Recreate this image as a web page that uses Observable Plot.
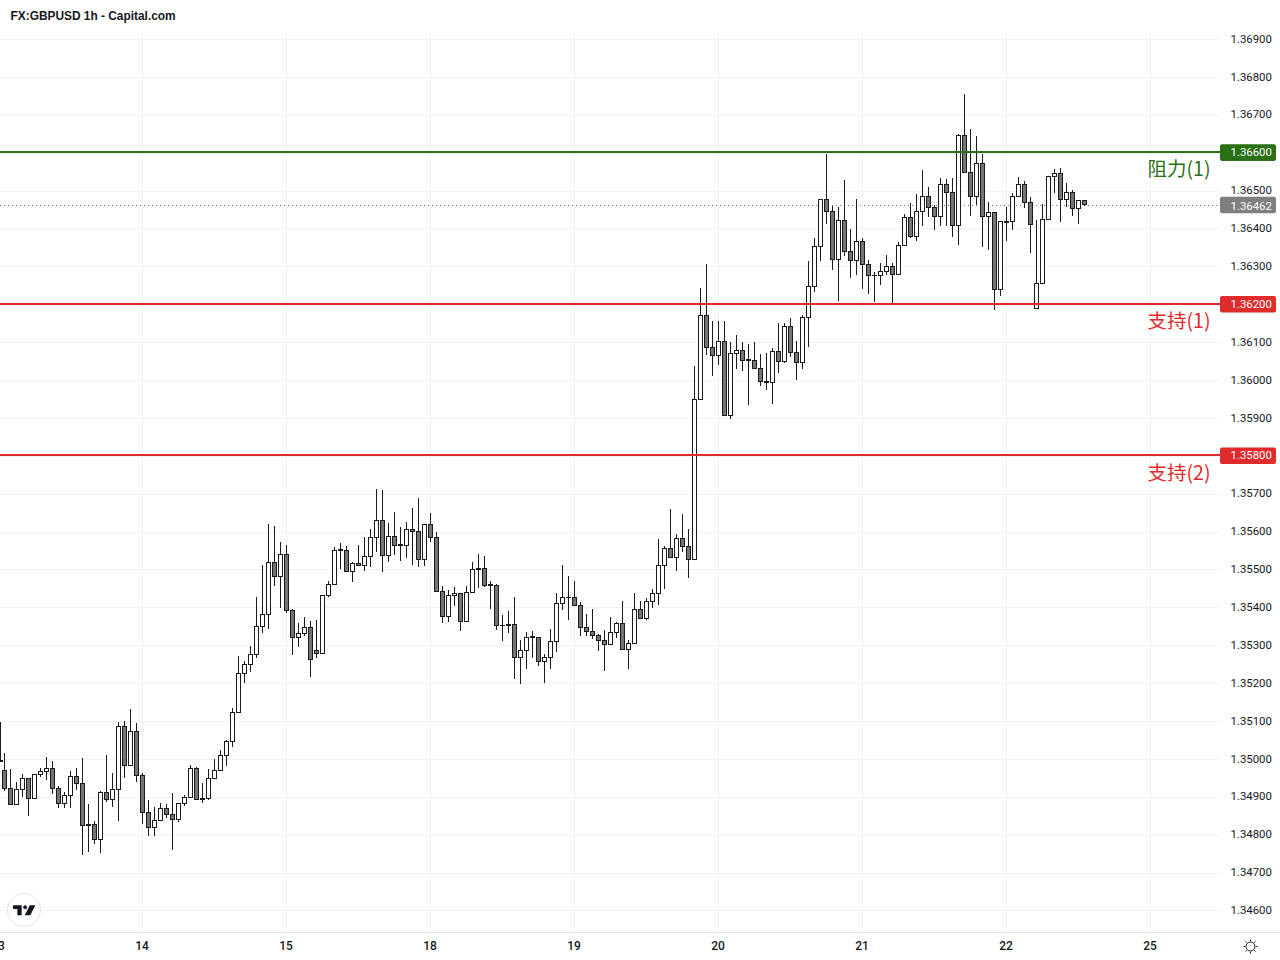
<!DOCTYPE html>
<html>
<head>
<meta charset="utf-8">
<script src="https://cdn.jsdelivr.net/npm/d3@7"></script>
<script src="https://cdn.jsdelivr.net/npm/@observablehq/plot@0.6"></script>
<style>
html,body{margin:0;padding:0;background:#fff}
#wrap{position:relative;width:1280px;height:960px;overflow:hidden}
#wrap>svg{position:absolute;left:0;top:0}
</style>
</head>
<body>
<div id="wrap"></div>
<script>
const title = "FX:GBPUSD 1h - Capital.com";

// hours of each bar, counted from the start of the 14th
const barHours = [-23.7, ...d3.range(-23, 158)];

const opens = [
1.34995,1.34970,1.34922,1.34880,1.34920,1.34949,1.34896,1.34959,1.34967,1.34975,
1.34922,1.34883,1.34904,1.34954,1.34935,1.34827,1.34827,1.34788,1.34912,1.34893,
1.34920,1.35086,1.34983,1.35073,1.34957,1.34859,1.34819,1.34838,1.34869,1.34854,
1.34840,1.34883,1.34898,1.34975,1.34896,1.34896,1.34949,1.34970,1.35010,1.35047,
1.35123,1.35226,1.35250,1.35276,1.35350,1.35382,1.35519,1.35482,1.35540,1.35392,
1.35321,1.35332,1.35347,1.35287,1.35279,1.35432,1.35461,1.35552,1.35551,1.35495,
1.35516,1.35511,1.35535,1.35585,1.35630,1.35537,1.35587,1.35565,1.35564,1.35606,
1.35601,1.35527,1.35619,1.35585,1.35442,1.35376,1.35432,1.35437,1.35363,1.35440,
1.35503,1.35503,1.35459,1.35458,1.35353,1.35355,1.35355,1.35268,1.35286,1.35322,
1.35321,1.35257,1.35268,1.35310,1.35410,1.35427,1.35426,1.35406,1.35347,1.35337,
1.35326,1.35313,1.35303,1.35334,1.35358,1.35289,1.35305,1.35395,1.35371,1.35416,
1.35437,1.35511,1.35556,1.35532,1.35582,1.35561,1.35527,1.35949,1.36171,1.36086,
1.36065,1.36102,1.35907,1.36070,1.36078,1.36053,1.36052,1.36031,1.35996,1.35994,
1.36076,1.36049,1.36142,1.36073,1.36046,1.36165,1.36247,1.36353,1.36477,1.36445,
1.36319,1.36422,1.36340,1.36316,1.36366,1.36306,1.36277,1.36276,1.36287,1.36300,
1.36279,1.36356,1.36430,1.36379,1.36445,1.36485,1.36456,1.36432,1.36516,1.36494,
1.36407,1.36645,1.36547,1.36484,1.36571,1.36431,1.36442,1.36238,1.36419,1.36418,
1.36484,1.36516,1.36468,1.36188,1.36254,1.36423,1.36537,1.36545,1.36476,1.36494,
1.36452,1.36473];

const highs = [
1.35096,1.35015,1.34973,1.34938,1.34959,1.34949,1.34959,1.34975,1.35004,1.34994,
1.34928,1.34912,1.34968,1.34975,1.35001,1.34880,1.34836,1.34914,1.35009,1.34962,
1.35096,1.35099,1.35131,1.35094,1.34962,1.34891,1.34872,1.34883,1.34880,1.34909,
1.34883,1.34904,1.34983,1.34978,1.34935,1.34972,1.35000,1.35023,1.35050,1.35134,
1.35272,1.35258,1.35298,1.35427,1.35511,1.35619,1.35614,1.35572,1.35564,1.35395,
1.35358,1.35374,1.35363,1.35366,1.35432,1.35469,1.35559,1.35569,1.35561,1.35519,
1.35564,1.35585,1.35606,1.35711,1.35709,1.35622,1.35651,1.35611,1.35624,1.35661,
1.35688,1.35619,1.35648,1.35598,1.35455,1.35445,1.35453,1.35437,1.35455,1.35519,
1.35540,1.35535,1.35469,1.35461,1.35379,1.35389,1.35426,1.35313,1.35334,1.35337,
1.35321,1.35276,1.35342,1.35437,1.35511,1.35482,1.35469,1.35413,1.35382,1.35395,
1.35329,1.35340,1.35374,1.35361,1.35416,1.35313,1.35437,1.35416,1.35424,1.35448,
1.35580,1.35561,1.35659,1.35593,1.35646,1.35606,1.36036,1.36242,1.36305,1.36155,
1.36157,1.36157,1.36099,1.36120,1.36099,1.36094,1.36099,1.36068,1.36070,1.36084,
1.36150,1.36150,1.36163,1.36102,1.36171,1.36313,1.36374,1.36477,1.36596,1.36459,
1.36456,1.36527,1.36398,1.36477,1.36374,1.36316,1.36286,1.36308,1.36329,1.36308,
1.36364,1.36438,1.36467,1.36490,1.36554,1.36509,1.36461,1.36533,1.36531,1.36534,
1.36650,1.36756,1.36663,1.36645,1.36597,1.36471,1.36442,1.36420,1.36457,1.36494,
1.36537,1.36526,1.36484,1.36423,1.36465,1.36539,1.36558,1.36560,1.36521,1.36502,
1.36473,1.36476];

const lows = [
1.34993,1.34916,1.34880,1.34877,1.34900,1.34850,1.34896,1.34951,1.34944,1.34908,
1.34869,1.34869,1.34869,1.34919,1.34745,1.34755,1.34776,1.34752,1.34887,1.34874,
1.34837,1.34950,1.34983,1.34940,1.34829,1.34796,1.34797,1.34838,1.34845,1.34760,
1.34834,1.34876,1.34898,1.34893,1.34884,1.34891,1.34946,1.34970,1.34982,1.35031,
1.35123,1.35200,1.35230,1.35267,1.35331,1.35344,1.35457,1.35397,1.35384,1.35273,
1.35296,1.35323,1.35217,1.35265,1.35279,1.35428,1.35461,1.35501,1.35492,1.35468,
1.35508,1.35497,1.35507,1.35545,1.35492,1.35519,1.35537,1.35521,1.35529,1.35513,
1.35506,1.35508,1.35572,1.35442,1.35358,1.35360,1.35403,1.35337,1.35363,1.35437,
1.35450,1.35453,1.35395,1.35339,1.35310,1.35331,1.35212,1.35197,1.35236,1.35265,
1.35244,1.35199,1.35236,1.35281,1.35392,1.35366,1.35405,1.35323,1.35323,1.35316,
1.35286,1.35233,1.35303,1.35318,1.35289,1.35236,1.35302,1.35371,1.35366,1.35398,
1.35405,1.35448,1.35530,1.35497,1.35545,1.35477,1.35527,1.35949,1.36066,1.36010,
1.36040,1.35907,1.35898,1.36030,1.36025,1.35935,1.36031,1.35985,1.35974,1.35937,
1.36019,1.36046,1.36062,1.36001,1.36030,1.36088,1.36233,1.36315,1.36411,1.36291,
1.36208,1.36328,1.36268,1.36278,1.36240,1.36228,1.36207,1.36252,1.36278,1.36202,
1.36279,1.36356,1.36375,1.36368,1.36407,1.36430,1.36397,1.36407,1.36406,1.36377,
1.36356,1.36547,1.36433,1.36463,1.36351,1.36343,1.36185,1.36222,1.36367,1.36396,
1.36484,1.36455,1.36335,1.36188,1.36254,1.36423,1.36494,1.36417,1.36457,1.36433,
1.36412,1.36460];

const closes = [
1.34993,1.34922,1.34880,1.34920,1.34949,1.34896,1.34959,1.34967,1.34975,1.34922,
1.34883,1.34904,1.34954,1.34935,1.34825,1.34825,1.34788,1.34912,1.34893,1.34920,
1.35086,1.34983,1.35073,1.34957,1.34859,1.34819,1.34838,1.34869,1.34854,1.34840,
1.34883,1.34898,1.34975,1.34893,1.34893,1.34949,1.34970,1.35010,1.35047,1.35123,
1.35226,1.35250,1.35276,1.35350,1.35382,1.35519,1.35482,1.35540,1.35392,1.35321,
1.35332,1.35347,1.35263,1.35279,1.35432,1.35461,1.35551,1.35550,1.35495,1.35516,
1.35511,1.35535,1.35585,1.35630,1.35537,1.35587,1.35564,1.35563,1.35606,1.35601,
1.35527,1.35619,1.35585,1.35442,1.35376,1.35432,1.35437,1.35363,1.35440,1.35500,
1.35500,1.35458,1.35457,1.35352,1.35351,1.35352,1.35268,1.35286,1.35321,1.35320,
1.35257,1.35268,1.35310,1.35410,1.35426,1.35425,1.35405,1.35347,1.35337,1.35326,
1.35313,1.35303,1.35334,1.35358,1.35289,1.35305,1.35395,1.35371,1.35416,1.35437,
1.35511,1.35556,1.35532,1.35582,1.35561,1.35527,1.35949,1.36171,1.36086,1.36065,
1.36102,1.35907,1.36070,1.36078,1.36052,1.36051,1.36031,1.35996,1.35994,1.36076,
1.36049,1.36142,1.36073,1.36046,1.36165,1.36247,1.36353,1.36477,1.36445,1.36319,
1.36422,1.36340,1.36316,1.36366,1.36306,1.36276,1.36275,1.36287,1.36300,1.36279,
1.36356,1.36430,1.36379,1.36445,1.36485,1.36456,1.36432,1.36517,1.36494,1.36407,
1.36645,1.36547,1.36484,1.36571,1.36431,1.36442,1.36238,1.36418,1.36417,1.36484,
1.36516,1.36468,1.36410,1.36254,1.36423,1.36537,1.36545,1.36476,1.36494,1.36452,
1.36473,1.36462];

const dayHours  = [-24, 0, 24, 48, 72, 96, 120, 144, 168];
const dayLabels = ["13", "14", "15", "18", "19", "20", "21", "22", "25"];
const priceTicks = [1.346,1.347,1.348,1.349,1.350,1.351,1.352,1.353,1.354,1.355,1.356,1.357,1.358,1.359,1.360,1.361,1.362,1.363,1.364,1.365,1.366,1.367,1.368,1.369];

const levelPrices = [1.366, 1.362, 1.358];
const levelNames  = ["阻力(1)", "支持(1)", "支持(2)"];
const levelColors = ["#2a7015", "#df2b2b", "#df2b2b"];
const lastPrice = 1.36462;

const candles = barHours.map((x, i) => ({x, open: opens[i], high: highs[i], low: lows[i], close: closes[i]}));
const levels = levelPrices.map((price, i) => ({price, name: levelNames[i], color: levelColors[i]}));

const xDomain = [-23.667, 179.667];
const yDomain = [1.34543, 1.37003];
const paneEnd = xDomain[1], tagEnd = 189.0, pageEnd = 189.67;
const tagHalf = 0.00022, gridTop = 1.36921, labelX = 178.0;
const fmt = d3.format(".5f");
const ink = "#1b1b1b";
const axisFont = 11.4;
const gridColor = "#f1f1f2";

const chart = Plot.plot({
  width: 1280, height: 960,
  marginLeft: 0, marginRight: 60, marginTop: 0, marginBottom: 28,
  x: {domain: xDomain},
  y: {domain: yDomain},
  style: {fontFamily: "Roboto", fontSize: "12px", color: "#131722", background: "#fff"},
  marks: [
    Plot.ruleY(priceTicks, {x1: xDomain[0], x2: paneEnd, stroke: gridColor, shapeRendering: "crispEdges"}),
    Plot.ruleX(dayHours, {y1: yDomain[0], y2: gridTop, stroke: gridColor, shapeRendering: "crispEdges"}),
    Plot.ruleY([yDomain[0]], {x1: xDomain[0], x2: pageEnd, stroke: "#e0e3eb", shapeRendering: "crispEdges"}),

    Plot.ruleY([lastPrice], {x1: xDomain[0], x2: paneEnd, stroke: "#787b86", strokeDasharray: "1,3", shapeRendering: "crispEdges"}),

    Plot.ruleX(candles, {x: "x", y1: "low", y2: "high", stroke: ink, strokeWidth: 1, shapeRendering: "crispEdges"}),
    Plot.rect(candles, {
      x1: d => d.x - 0.333, x2: d => d.x + 0.333,
      y1: "open", y2: "close", dx: 0.5,
      fill: d => d.close > d.open ? "#ffffff" : "#747474",
      stroke: ink, strokeWidth: 1, shapeRendering: "crispEdges"
    }),

    Plot.ruleY(levels, {y: "price", x1: xDomain[0], x2: paneEnd, stroke: "color", strokeWidth: 2, dy: -1, shapeRendering: "crispEdges"}),

    Plot.axisY(priceTicks, {anchor: "right", tickSize: 0, tickPadding: 10, tickFormat: fmt, label: null, fontSize: axisFont, fill: "#131722", dy: -0.5}),
    Plot.axisX(dayHours, {anchor: "bottom", tickSize: 0, tickPadding: 9, tickFormat: (d, i) => dayLabels[dayHours.indexOf(d)], label: null, fontSize: 12, fontWeight: 500, fill: "#131722", dx: -0.5}),

    Plot.rect(levels, {x1: paneEnd, x2: tagEnd, y1: d => d.price - tagHalf, y2: d => d.price + tagHalf, fill: "color", rx: 2}),
    Plot.rect([lastPrice], {x1: paneEnd, x2: tagEnd, y1: d => d - tagHalf, y2: d => d + tagHalf, fill: "#7f7f7f", rx: 2}),
    Plot.text(levels, {x: paneEnd, y: "price", text: d => fmt(d.price), dx: 10, dy: -0.5, textAnchor: "start", fill: "#fff", fontSize: axisFont}),
    Plot.text([lastPrice], {x: paneEnd, y: d => d, text: d => fmt(d), dx: 10, dy: 0.5, textAnchor: "start", fill: "#fff", fontSize: axisFont}),

    Plot.text(levels, {x: labelX, y: "price", text: "name", dy: 17, textAnchor: "end", fill: "color", fontSize: 19.5, fontFamily: "'Noto Sans CJK SC'"}),

    Plot.text([title], {frameAnchor: "top-left", dx: 10, dy: 11, textAnchor: "start", fontFamily: "'Liberation Sans'", fontWeight: 700, fontSize: 11.9, fill: "#131722"})
  ]
});
const wrap = document.getElementById("wrap");
wrap.appendChild(chart);

const overlay = document.createElementNS("http://www.w3.org/2000/svg", "svg");
overlay.setAttribute("width", 1280);
overlay.setAttribute("height", 960);
overlay.style.pointerEvents = "none";
overlay.innerHTML = `
  <circle cx="24" cy="910" r="16.5" fill="#fff" stroke="#e0e3eb" stroke-width="1"/>
  <g transform="translate(13,902.8) scale(0.62)" fill="#131722">
    <path d="M14 4H0v6h7v10h7V4Z"/><circle cx="19.5" cy="7" r="3"/><path d="M27 4h9l-8 16h-9l8-16Z"/>
  </g>
  <g transform="translate(1250.5,946.5)" fill="none" stroke="#131722" stroke-width="1">
    <circle r="4.5"/>
    <path d="M0-7v1.6M0 7v-1.6M-7 0h1.6M7 0h-1.6M-5-5l1.2 1.2M5 5l-1.2-1.2M-5 5l1.2-1.2M5-5l-1.2 1.2"/>
  </g>`;
wrap.appendChild(overlay);
</script>
</body>
</html>
